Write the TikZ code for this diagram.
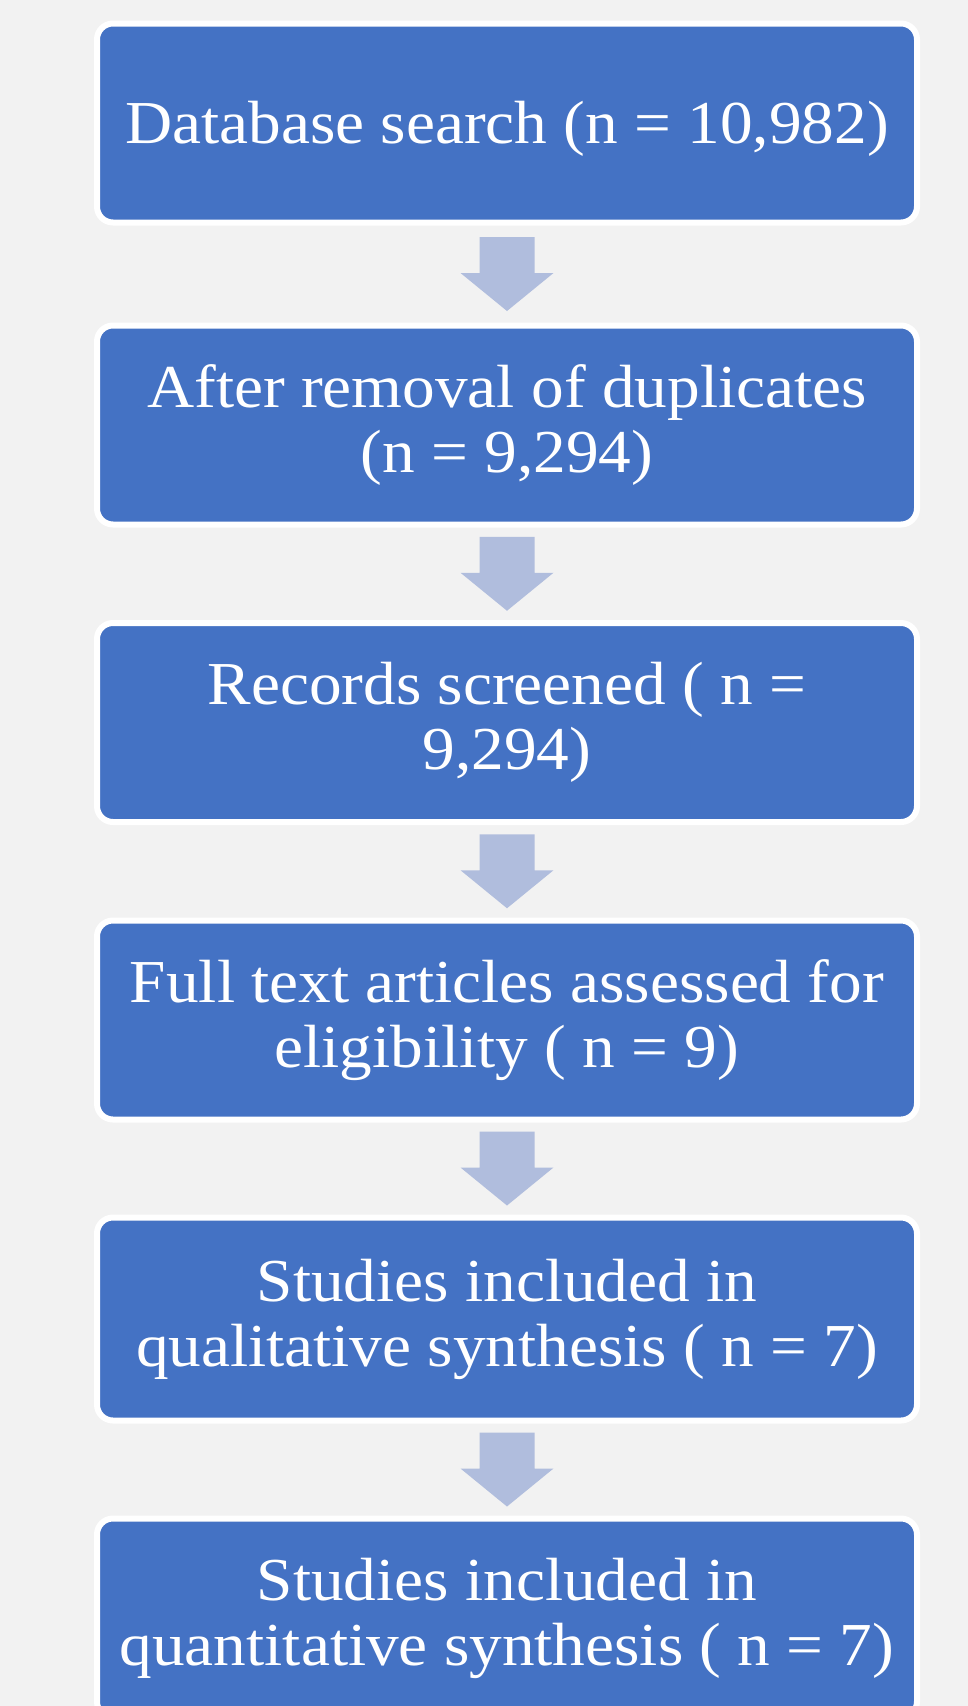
\documentclass[tikz,border=0pt]{standalone}
\usepackage{fontspec}
\setmainfont{Liberation Serif}[FakeStretch=1.07]
\usetikzlibrary{calc}
\definecolor{bgc}{HTML}{F2F2F2}
\definecolor{boxc}{HTML}{4472C4}
\definecolor{arrc}{RGB}{176,189,221}
\tikzset{
  flowbox/.style={draw=white, line width=6pt, fill=boxc, rounded corners=16pt,
    minimum width=820pt, minimum height=199pt, inner sep=0pt,
    text=white, align=center, font=\fontsize{61}{65}\selectfont},
  blockarrow/.style={fill=arrc, draw=none}
}
\begin{document}
\begin{tikzpicture}[x=1pt,y=-1pt]
\useasboundingbox (0,0) rectangle (968,1706);
\fill[bgc] (0,0) rectangle (968,1706);
\node[flowbox, text height=53pt, text depth=13pt] (b1) at (507,123) {Database search (n = 10,982)};
\node[flowbox] (b2) at (507,425) {After removal of duplicates\\(n = 9,294)};
\node[flowbox] (b3) at (507,722.5) {Records screened ( n =\\9,294)};
\node[flowbox] (b4) at (507,1020) {Full text articles assessed for\\eligibility ( n = 9)};
\node[flowbox, minimum height=203pt] (b5) at (507,1319) {Studies included in\\qualitative synthesis ( n = 7)};
\node[flowbox] (b6) at (507,1618) {Studies included in\\quantitative synthesis ( n = 7)};
\foreach \a/\b in {b1/b2,b2/b3,b3/b4,b4/b5,b5/b6}{
  \coordinate (m-\a) at ($(\a.south)!0.5!(\b.north)$);
  \fill[blockarrow] ($(m-\a)+(-27.5,-37)$) -- ($(m-\a)+(27.5,-37)$) -- ($(m-\a)+(27.5,-1)$)
    -- ($(m-\a)+(46.5,-1)$) -- ($(m-\a)+(0,37)$) -- ($(m-\a)+(-46.5,-1)$)
    -- ($(m-\a)+(-27.5,-1)$) -- cycle;
}
\end{tikzpicture}
\end{document}
